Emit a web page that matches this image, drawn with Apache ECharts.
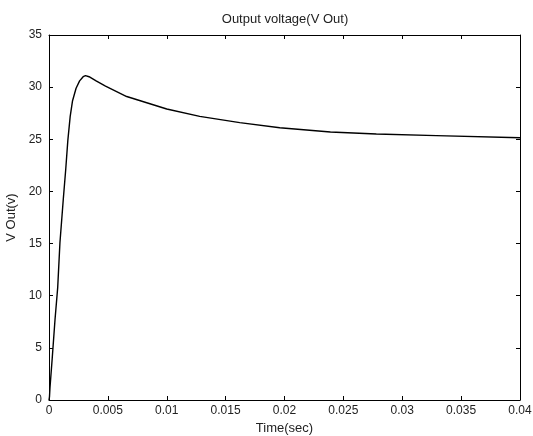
<!DOCTYPE html>
<html>
<head>
<meta charset="utf-8">
<script src="https://cdn.jsdelivr.net/npm/echarts@6/dist/echarts.min.js"></script>
<style>html,body{margin:0;padding:0;background:#fff;}#c{width:533px;height:436px;}</style>
</head>
<body>
<div id="c"></div>
<script>
const timeSec = [0, 0.00004, 0.000085, 0.00028, 0.00051, 0.00074, 0.00093, 0.00121, 0.00142, 0.0016, 0.0018, 0.002, 0.0023, 0.0026, 0.0029, 0.0031, 0.0034, 0.004, 0.0048, 0.0066, 0.0083, 0.0100, 0.0128, 0.0162, 0.0196, 0.0239, 0.0278, 0.0329, 0.04];
const vOut = [0, 0.3, 1.2, 4.1, 7.7, 10.8, 15.1, 19.2, 22.1, 24.9, 27.2, 28.7, 29.9, 30.6, 31.0, 31.1, 31.0, 30.6, 30.1, 29.1, 28.5, 27.9, 27.2, 26.6, 26.1, 25.7, 25.5, 25.35, 25.15];
const xTicks = [0, 0.005, 0.01, 0.015, 0.02, 0.025, 0.03, 0.035, 0.04];
const yTicks = [0, 5, 10, 15, 20, 25, 30, 35];

const font = 'Liberation Sans';
const chart = echarts.init(document.getElementById('c'), null, {renderer: 'canvas'});
const axLine = {show: true, onZero: false, lineStyle: {color: '#000', width: 1}};
const tick = {show: true, inside: true, length: 4, lineStyle: {color: '#000'}};
chart.setOption({
  animation: false,
  backgroundColor: '#fff',
  title: {
    text: 'Output voltage(V Out)', left: 280, top: 8, textAlign: 'center',
    textStyle: {fontFamily: font, fontSize: 13, fontWeight: 'normal', color: '#222'}
  },
  grid: {left: 49, right: 13, top: 35, bottom: 36, containLabel: false, outerBoundsMode: 'none'},
  xAxis: [{
    type: 'value', min: 0, max: 0.04, interval: 0.005, position: 'bottom',
    axisLine: axLine, axisTick: tick, splitLine: {show: false},
    axisLabel: {fontFamily: font, fontSize: 12, color: '#222', margin: 5,
      formatter: v => { const m = xTicks.find(t => Math.abs(t - v) < 1e-9); return m === undefined ? '' : String(m); }},
    name: 'Time(sec)', nameLocation: 'middle', nameGap: 20,
    nameTextStyle: {fontFamily: font, fontSize: 13, color: '#222'}
  }, {
    type: 'value', min: 0, max: 0.04, interval: 0.005, position: 'top',
    axisLine: axLine, axisTick: tick, axisLabel: {show: false}, splitLine: {show: false}
  }],
  yAxis: [{
    type: 'value', min: 0, max: 35, interval: 5, position: 'left',
    axisLine: axLine, axisTick: tick, splitLine: {show: false},
    axisLabel: {fontFamily: font, fontSize: 12, color: '#222', margin: 7,
      formatter: v => yTicks.includes(v) ? String(v) : ''},
    name: 'V Out(v)', nameLocation: 'middle', nameGap: 28, nameRotate: 90,
    nameTextStyle: {fontFamily: font, fontSize: 13, color: '#222'}
  }, {
    type: 'value', min: 0, max: 35, interval: 5, position: 'right',
    axisLine: axLine, axisTick: tick, axisLabel: {show: false}, splitLine: {show: false}
  }],
  series: [{
    type: 'line', xAxisIndex: 0, yAxisIndex: 0, showSymbol: false, smooth: false,
    lineStyle: {color: '#000', width: 1.4},
    data: timeSec.map((t, i) => [t, vOut[i]])
  }]
});
</script>
</body>
</html>
